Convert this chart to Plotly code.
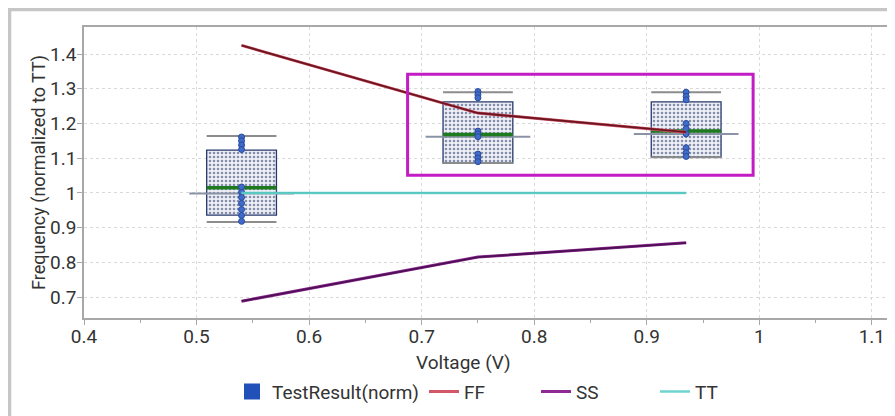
import plotly.graph_objects as go

# ---- data ----
voltages = [0.54, 0.75, 0.935]
ff = [1.425, 1.23, 1.175]
ss = [0.688, 0.815, 0.856]
tt = [1.0, 1.0, 1.0]

box_q1 = [0.936, 1.086, 1.103]
box_q3 = [1.123, 1.262, 1.262]
box_median = [1.015, 1.168, 1.178]
box_mean = [0.998, 1.162, 1.170]
whisker_low = [0.916, 1.086, 1.103]
whisker_high = [1.164, 1.290, 1.290]

points_054 = [1.161, 1.150, 1.138, 1.125, 1.017, 1.002, 0.987, 0.970, 0.952, 0.935, 0.918]
points_075 = [1.292, 1.283, 1.274, 1.178, 1.170, 1.162, 1.112, 1.100, 1.090]
points_0935 = [1.290, 1.278, 1.268, 1.200, 1.185, 1.170, 1.130, 1.116, 1.105]
points = [points_054, points_075, points_0935]

highlight_x = [0.6875, 0.9945]
highlight_y = [1.051, 1.342]

x_ticks = [0.4, 0.5, 0.6, 0.7, 0.8, 0.9, 1.0, 1.1]
y_ticks = [0.7, 0.8, 0.9, 1.0, 1.1, 1.2, 1.3, 1.4]

# ---- style ----
BOX_W = 0.062
MEAN_W = 0.093
FONT = "Roboto, 'Open Sans', sans-serif"
TXT = "#333333"
FS = 19

def seg(centers, ys, w):
    xs, yy = [], []
    for c, y in zip(centers, ys):
        xs += [c - w / 2, c + w / 2, None]
        yy += [y, y, None]
    return xs, yy

fig = go.Figure()

# whisker caps
cx, cy = seg(voltages + voltages, whisker_high + whisker_low, BOX_W)
fig.add_trace(go.Scatter(x=cx, y=cy, mode="lines", line=dict(color="#8c8c8c", width=2),
                         showlegend=False, hoverinfo="skip"))

# box bodies
fig.add_trace(go.Bar(
    x=voltages, base=box_q1, y=[h - l for h, l in zip(box_q3, box_q1)], width=BOX_W,
    marker=dict(color="#eef0f5",
                line=dict(color="#27386c", width=1.3),
                pattern=dict(shape=".", fgcolor="#1c2d66", bgcolor="#eef0f5", size=4, solidity=0.33)),
    showlegend=False, hoverinfo="skip"))

# mean lines
mx, my = seg(voltages, box_mean, MEAN_W)
fig.add_trace(go.Scatter(x=mx, y=my, mode="lines", line=dict(color="#8a93a6", width=2),
                         showlegend=False, hoverinfo="skip"))

# median lines
mdx, mdy = seg(voltages, box_median, BOX_W)
fig.add_trace(go.Scatter(x=mdx, y=mdy, mode="lines", line=dict(color="#1d7a1d", width=3.5),
                         showlegend=False, hoverinfo="skip"))

# points
px_, py_ = [], []
for v, pts in zip(voltages, points):
    px_ += [v] * len(pts)
    py_ += pts
fig.add_trace(go.Scatter(x=px_, y=py_, mode="markers",
                         marker=dict(color="#3f6cc9", size=6, line=dict(color="#2a4b9c", width=1)),
                         showlegend=False, hoverinfo="skip"))

# legend entry for test results
fig.add_trace(go.Scatter(x=[None], y=[None], mode="markers", name="TestResult(norm)",
                         marker=dict(symbol="square", color="#2150b8", size=16),
                         legendwidth=147))

# corner lines: coloured halo + dark core
series = [("FF", ff, "#d4566a", "#6e1620", 3.0, 1.9, 67),
          ("SS", ss, "#8e2a92", "#4e0f55", 3.0, 1.9, 74),
          ("TT", tt, "#6fd4cf", "#4fc2bb", 2.5, 1.2, 74)]
for name, vals, col, core, w, cw, lw in series:
    fig.add_trace(go.Scatter(x=voltages, y=vals, mode="lines", name=name,
                             line=dict(color=col, width=w), legendwidth=lw))
    fig.add_trace(go.Scatter(x=voltages, y=vals, mode="lines", showlegend=False,
                             line=dict(color=core, width=cw), hoverinfo="skip"))

# highlight rectangle
fig.add_shape(type="rect", xref="x", yref="y",
              x0=highlight_x[0], x1=highlight_x[1], y0=highlight_y[0], y1=highlight_y[1],
              line=dict(color="#c21cc4", width=3))

# outer frame
fig.add_shape(type="rect", xref="paper", yref="paper",
              x0=-0.0923, x1=1.1, y0=-0.6, y1=1.0601,
              line=dict(color="#c6c6c6", width=3.5), layer="below")

fig.add_annotation(text="Voltage (V)", xref="paper", yref="paper",
                   x=0.4697, y=-0.1546, xanchor="center", yanchor="middle",
                   showarrow=False, font=dict(size=FS, color=TXT, family=FONT))

axis_common = dict(
    showline=True, linecolor="#a8a8a8", linewidth=1.5, mirror=True,
    ticks="outside", ticklen=5, tickcolor="#a8a8a8",
    showgrid=True, gridcolor="#d9d9d9", griddash="dot", gridwidth=1,
    zeroline=False, tickfont=dict(size=FS, color=TXT, family=FONT),
    automargin=False,
)

# the page places the figure 8px in from the top-left corner
fig.update_layout(
    width=887, height=408,
    margin=dict(l=76, r=4, t=19, b=98, autoexpand=False),
    paper_bgcolor="white", plot_bgcolor="white",
    barmode="overlay",
    font=dict(family=FONT, size=FS, color=TXT),
    xaxis=dict(range=[0.4, 1.117], tickvals=x_ticks, ticklabelstandoff=-5,
               minor=dict(dtick=0.05, tick0=0.4, ticks="outside", ticklen=3,
                          tickcolor="#a8a8a8", showgrid=False),
               **axis_common),
    yaxis=dict(range=[0.6395, 1.478], tickvals=y_ticks, ticklabelstandoff=-3,
               title=dict(text="Frequency (normalized to TT)", font=dict(size=18, color=TXT, family=FONT),
                          standoff=0),
               **axis_common),
    legend=dict(orientation="h", x=0.1834, xanchor="left", y=-0.1875, yanchor="top",
                font=dict(size=FS, color=TXT, family=FONT), bgcolor="rgba(0,0,0,0)",
                itemsizing="trace"),
    showlegend=True,
)

fig.write_html("out.html")
